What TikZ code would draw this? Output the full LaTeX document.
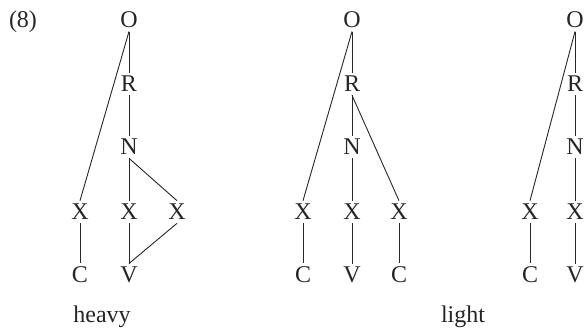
\documentclass[tikz,border=0pt]{standalone}
\usepackage{fontspec}
\setmainfont{Liberation Serif}

\begin{document}
\begin{tikzpicture}[x=1pt,y=-1pt,font=\fontsize{24}{28}\selectfont,every node/.style={inner sep=3pt,text=black!85},line width=0.9pt,draw=black!85]
	\useasboundingbox (0,0) rectangle (585,327);
	\node at (23,22) (exnum) {(8)};
	
	% heavy
	\node at (129,20) (honse) {O};
	\node at (129,84) (hrhym) {R};
	\node at (129,147) (hnucl) {N};
	\node at (80,212) (hxa) {X};
	\node at (129,212) (hxb) {X};
	\node at (177,212) (hxc) {X};
	\node at (80,275) (hcons) {C};
	\node at (129,275) (hvowe) {V};
	\node[anchor=base] at (102,322) (heavy) {heavy};
	
	\draw (honse.south) -- (hxa.north); \draw (honse) -- (hrhym); \draw (hrhym) -- (hnucl);
	\draw (hnucl) -- (hxb); \draw (hnucl.south) -- (hxc.north);
	\draw (hxa) -- (hcons); \draw (hxb) -- (hvowe); \draw (hxc.south) -- (hvowe.north);
	
	% light, branching rhyme
	\node at (352,20) (lonse) {O};
	\node at (352,84) (lrhym) {R};
	\node at (352,147) (lnucl) {N};
	\node at (303,212) (lxa) {X};
	\node at (352,212) (lxb) {X};
	\node at (399,212) (lxc) {X};
	\node at (303,275) (lcons) {C};
	\node at (352,275) (lvowe) {V};
	\node at (399,275) (lcoda) {C};
	\node[anchor=base] at (463,322) (light) {light};
	
	\draw (lonse.south) -- (lxa.north); \draw (lonse) -- (lrhym); \draw (lrhym) -- (lnucl);
	\draw (lrhym.south) -- (lxc.north); \draw (lnucl) -- (lxb);
	\draw (lxa) -- (lcons); \draw (lxb) -- (lvowe); \draw (lxc) -- (lcoda);
	
	% light, open syllable
	\node at (575,20) (sonse) {O};
	\node at (575,84) (srhym) {R};
	\node at (575,147) (snucl) {N};
	\node at (530,212) (sxa) {X};
	\node at (575,212) (sxb) {X};
	\node at (530,275) (scons) {C};
	\node at (575,275) (svowe) {V};
	
	\draw (sonse.south) -- (sxa.north); \draw (sonse) -- (srhym); \draw (srhym) -- (snucl);
	\draw (snucl) -- (sxb); \draw (sxa) -- (scons); \draw (sxb) -- (svowe);
	
\end{tikzpicture}
\end{document}
